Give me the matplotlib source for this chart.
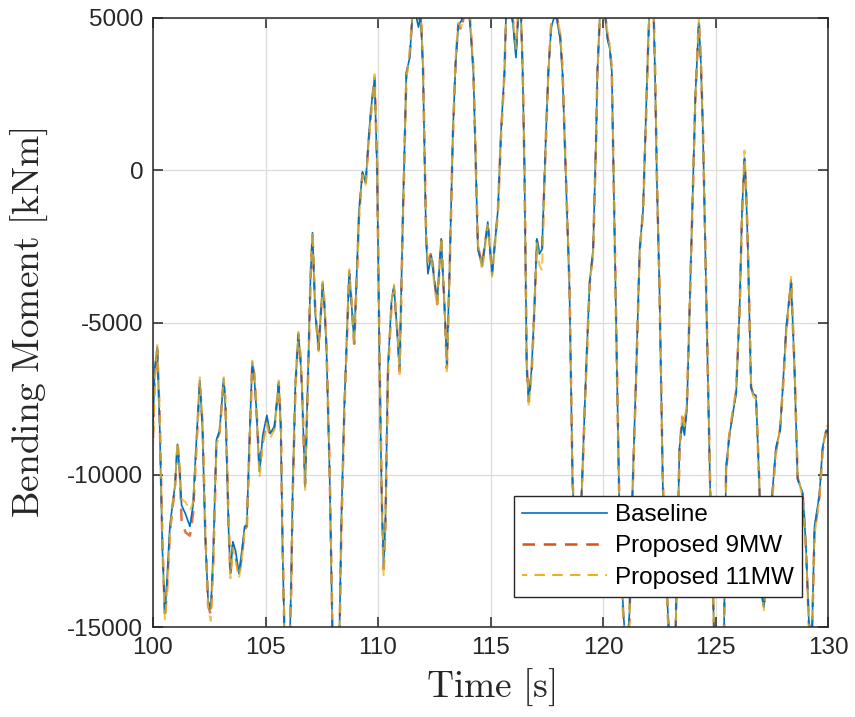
import matplotlib
matplotlib.use("Agg")
import matplotlib.pyplot as plt
from matplotlib.ticker import FuncFormatter

plt.rcParams['font.family'] = ['Liberation Sans', 'DejaVu Sans']
plt.rcParams['mathtext.fontset'] = 'cm'
plt.rcParams['axes.unicode_minus'] = False

time_s = [
    100.00, 100.08, 100.19, 100.30, 100.42, 100.53, 100.62, 100.75, 100.88, 100.97,
    101.09, 101.18, 101.27, 101.45, 101.64, 101.78, 101.92, 102.08, 102.20, 102.32,
    102.45, 102.57, 102.68, 102.82, 102.96, 103.14, 103.22, 103.29, 103.36, 103.44,
    103.55, 103.67, 103.82, 103.95, 104.07, 104.17, 104.28, 104.41, 104.50, 104.59,
    104.73, 104.88, 105.06, 105.21, 105.40, 105.59, 105.68, 105.76, 105.85, 105.97,
    106.08, 106.14, 106.21, 106.33, 106.46, 106.55, 106.62, 106.76, 106.92, 107.00,
    107.09, 107.21, 107.36, 107.54, 107.62, 107.71, 107.85, 107.98, 108.15, 108.28,
    108.37, 108.50, 108.72, 108.83, 108.94, 109.05, 109.16, 109.31, 109.45, 109.63,
    109.73, 109.85, 109.96, 110.07, 110.17, 110.25, 110.33, 110.44, 110.60, 110.71,
    110.84, 110.96, 111.11, 111.26, 111.41, 111.55, 111.68, 111.80, 111.90, 112.00,
    112.14, 112.22, 112.37, 112.51, 112.63, 112.81, 112.96, 113.06, 113.18, 113.33,
    113.45, 113.57, 113.70, 113.85, 114.05, 114.15, 114.24, 114.44, 114.63, 114.88,
    115.07, 115.33, 115.47, 115.62, 115.70, 115.85, 116.00, 116.13, 116.25, 116.35,
    116.43, 116.51, 116.61, 116.70, 116.83, 116.95, 117.06, 117.17, 117.29, 117.47,
    117.57, 117.70, 117.84, 117.95, 118.10, 118.20, 118.51, 118.65, 118.80, 118.90,
    119.00, 119.08, 119.25, 119.41, 119.56, 119.70, 119.75, 119.87, 120.00, 120.09,
    120.20, 120.30, 120.39, 120.50, 120.59, 120.74, 120.90, 121.05, 121.18, 121.26,
    121.48, 121.63, 121.78, 121.89, 122.00, 122.10, 122.22, 122.31, 122.40, 122.51,
    122.66, 122.88, 123.05, 123.20, 123.30, 123.40, 123.52, 123.62, 123.73, 123.92,
    124.11, 124.26, 124.35, 124.44, 124.62, 124.76, 124.93, 125.15, 125.38, 125.47,
    125.62, 125.92, 126.07, 126.18, 126.29, 126.36, 126.44, 126.58, 126.69, 126.80,
    126.95, 127.07, 127.15, 127.25, 127.40, 127.69, 127.87, 127.99, 128.14, 128.36,
    128.51, 128.65, 128.88, 129.02, 129.15, 129.28, 129.40, 129.62, 129.76, 129.91,
    130.00,
]

baseline = [
    -8300, -6500, -5800, -8500, -12500, -14550, -13500, -11700, -10900, -10400,
    -9000, -9800, -11000, -11300, -11700, -11000, -9000, -6900, -8500, -12000,
    -14150, -14400, -12500, -8850, -8550, -6850, -7800, -9750, -11800, -13250,
    -12200, -12500, -13250, -12500, -11700, -11650, -9000, -6300, -6800, -7800,
    -9900, -8700, -8050, -8650, -8400, -6950, -8500, -12500, -15500, -16800,
    -15500, -13500, -10400, -7000, -5350, -6200, -7150, -10400, -5850, -3500,
    -2050, -4700, -5900, -3700, -4500, -5850, -10000, -15500, -16500, -15500,
    -11500, -7800, -3300, -4500, -5650, -3500, -1300, -50, -400, 1500,
    2300, 3000, 0, -6500, -11000, -13000, -11500, -6500, -4300, -3800,
    -5200, -6500, -1300, 3200, 3700, 5300, 5100, 4700, 5100, 3300,
    -2350, -3400, -2800, -3650, -4300, -2250, -4550, -6400, -3300, 1300,
    3500, 4770, 4900, 5300, 5200, 4200, 3200, -2600, -3150, -1700,
    -3450, -1300, 1300, 3240, 5300, 5400, 4800, 3700, 5300, 5200,
    3200, -30, -6500, -7550, -6500, -4550, -2250, -2750, -2600, 1300,
    3240, 4700, 5050, 4950, 4300, 3200, -3900, -10400, -12000, -12500,
    -11500, -10000, -6500, -3650, -2600, 1300, 3240, 5200, 5500, 5100,
    4300, 4000, 3240, -1500, -5500, -11700, -14500, -16000, -14500, -11700,
    -6500, -2600, -1300, 1300, 4000, 6000, 6000, 3240, -500, -3900,
    -10400, -14500, -16500, -16000, -12500, -9100, -8300, -8700, -7800, -2600,
    2550, 4850, 3500, 1300, -5200, -10400, -15000, -17000, -15000, -9750,
    -8700, -7300, -4550, -1300, 400, -700, -2600, -7150, -7350, -7400,
    -10400, -14000, -14350, -13500, -11700, -9100, -8550, -7150, -5200, -3600,
    -6500, -10150, -10600, -12350, -14800, -15500, -11700, -10650, -9100, -8550,
    -8600,
]

proposed_9mw = [
    -8800, -6700, -5900, -8200, -12300, -14700, -13800, -11900, -11000, -10500,
    -9000, -9700, -11500, -11900, -12000, -11300, -9200, -6950, -8300, -11800,
    -14300, -14600, -12800, -8900, -8600, -6900, -7600, -9600, -11600, -13300,
    -12300, -12700, -13300, -12700, -11800, -11700, -9200, -6350, -6700, -7700,
    -9800, -8900, -8250, -8750, -8450, -7000, -8300, -12300, -15500, -17000,
    -15800, -13800, -10600, -7100, -5400, -6100, -7100, -10300, -6000, -3600,
    -2150, -4600, -5900, -3750, -4400, -5800, -9800, -15300, -16700, -15800,
    -11800, -8000, -3400, -4400, -5700, -3700, -1400, -100, -450, 1400,
    2250, 3050, 200, -6300, -10800, -13100, -11700, -6700, -4400, -3900,
    -5100, -6600, -1500, 3100, 3800, 5300, 5200, 4900, 5200, 3400,
    -2200, -3000, -2700, -3600, -4400, -2300, -4500, -6500, -3400, 1200,
    3600, 4800, 4600, 5200, 5300, 4300, 3300, -2500, -3100, -1750,
    -3350, -1350, 1200, 3200, 5300, 5400, 4900, 3900, 5300, 5300,
    3300, 100, -6400, -7600, -6600, -4600, -2300, -2700, -2700, 1200,
    3200, 4800, 5150, 5050, 4400, 3300, -3800, -10300, -12000, -12600,
    -11600, -10100, -6600, -3700, -2700, 1200, 3200, 5200, 5500, 5200,
    4400, 4050, 3300, -1400, -5400, -11600, -14600, -16100, -14700, -11900,
    -6600, -2650, -1350, 1200, 3900, 6000, 6100, 3400, -400, -3800,
    -10300, -14600, -16600, -16100, -12700, -9200, -8100, -8500, -7700, -2700,
    2500, 4900, 3600, 1400, -5100, -10300, -15000, -17100, -15200, -9900,
    -8650, -7250, -4600, -1400, 350, -600, -2500, -7100, -7400, -7450,
    -10300, -13900, -14400, -13600, -11800, -9200, -8500, -7200, -5300, -3700,
    -6400, -10100, -10700, -12400, -14900, -15600, -11900, -10700, -9200, -8600,
    -8500,
]

proposed_11mw = [
    -9000, -6900, -5700, -8100, -12200, -14800, -13900, -12000, -10900, -10400,
    -8900, -9500, -10800, -10900, -11200, -10900, -9300, -6800, -8200, -11700,
    -14400, -14800, -12900, -9000, -8700, -6800, -7500, -9500, -11500, -13400,
    -12400, -12800, -13400, -12800, -11900, -11750, -9300, -6250, -6600, -7600,
    -10100, -9000, -8300, -8800, -8500, -6900, -8200, -12200, -15400, -17100,
    -15900, -13900, -10700, -7200, -5300, -6000, -7000, -10500, -6100, -3500,
    -2000, -4500, -5950, -3650, -4300, -5700, -9700, -15200, -16800, -15900,
    -11900, -8100, -3250, -4300, -5750, -3800, -1500, -150, -500, 1300,
    2200, 3150, 300, -6200, -10700, -13300, -11800, -6800, -4350, -3750,
    -5000, -6700, -1600, 3000, 3900, 5400, 5300, 5000, 5300, 3500,
    -2100, -3100, -2900, -3800, -4500, -2200, -4400, -6600, -3500, 1100,
    3700, 4850, 4700, 5300, 5400, 4400, 3400, -2400, -3300, -1800,
    -3500, -1400, 1100, 3150, 5400, 5500, 5000, 4000, 5400, 5400,
    3400, 200, -6300, -7800, -6700, -4700, -2400, -3100, -3300, 1100,
    3150, 4850, 5200, 5100, 4500, 3400, -3700, -10200, -11900, -12700,
    -11700, -10200, -6700, -3750, -2750, 1100, 3150, 5300, 5600, 5300,
    4500, 4100, 3400, -1300, -5300, -11500, -14700, -16200, -14800, -12000,
    -6700, -2700, -1400, 1100, 3800, 6100, 6200, 3500, -300, -3700,
    -10200, -14700, -16700, -16200, -12800, -9300, -8000, -8400, -7600, -2800,
    2450, 5000, 3700, 1500, -5000, -10200, -15000, -17200, -15300, -10000,
    -8600, -7200, -4650, -1500, 650, -500, -2400, -7000, -7450, -7500,
    -10200, -13800, -14450, -13700, -11900, -9300, -8450, -7250, -5400, -3500,
    -6300, -10000, -10800, -12500, -15000, -15700, -12000, -10800, -9300, -8400,
    -8400,
]

x_ticks = [100, 105, 110, 115, 120, 125, 130]
y_ticks = [-15000, -10000, -5000, 0, 5000]
series_labels = ['Baseline', 'Proposed 9MW', 'Proposed 11MW']

c_blue = '#0072BD'
c_orange = '#D95319'
c_yellow = '#EDB120'
c_axis = '#262626'

fig = plt.figure(figsize=(8.55, 7.17), dpi=100)
ax = fig.add_axes([153/855, 1 - 627/717, 675/855, 609/717])

l1, = ax.plot(time_s, baseline, color=c_blue, lw=1.2, zorder=4)
l2, = ax.plot(time_s, proposed_9mw, color=c_orange, lw=1.8, ls=(0, (5, 3.5)),
              alpha=0.8, zorder=3)
l3, = ax.plot(time_s, proposed_11mw, color=c_yellow, lw=1.5, ls=(2.5, (5, 3.5)),
              alpha=0.75, zorder=5)

ax.set_xlim(100, 130)
ax.set_ylim(-15000, 5000)
ax.set_xticks(x_ticks)
ax.set_yticks(y_ticks)
ax.yaxis.set_major_formatter(FuncFormatter(lambda v, p: '%d' % v))
ax.xaxis.set_major_formatter(FuncFormatter(lambda v, p: '%d' % v))
ax.grid(True, color='#dcdcdc', lw=0.9)
ax.set_axisbelow(True)

for s in ax.spines.values():
    s.set_color(c_axis)
    s.set_linewidth(1.1)
    s.set_zorder(6)
ax.tick_params(direction='in', length=7, width=1.1, colors=c_axis,
               top=True, right=True, labelsize=17.5, pad=7)

ax.set_xlabel(r'$\mathrm{Time\ [s]}$', fontsize=27, color=c_axis, labelpad=6)
ax.set_ylabel(r'$\mathrm{Bending\ Moment\ [kNm]}$', fontsize=27, color=c_axis, labelpad=12)

leg = ax.legend([l1, l2, l3], series_labels, loc='lower right',
                bbox_to_anchor=(0.9615, 0.049), borderaxespad=0,
                fontsize=17.5, frameon=True, fancybox=False, edgecolor='#262626',
                framealpha=1, handlelength=3.5, handletextpad=0.3,
                labelspacing=0.38, borderpad=0.35)
leg.get_frame().set_linewidth(1.0)
leg.set_zorder(10)
for h in leg.get_lines():
    h.set_alpha(1.0)

fig.savefig('out.png', dpi=100)
